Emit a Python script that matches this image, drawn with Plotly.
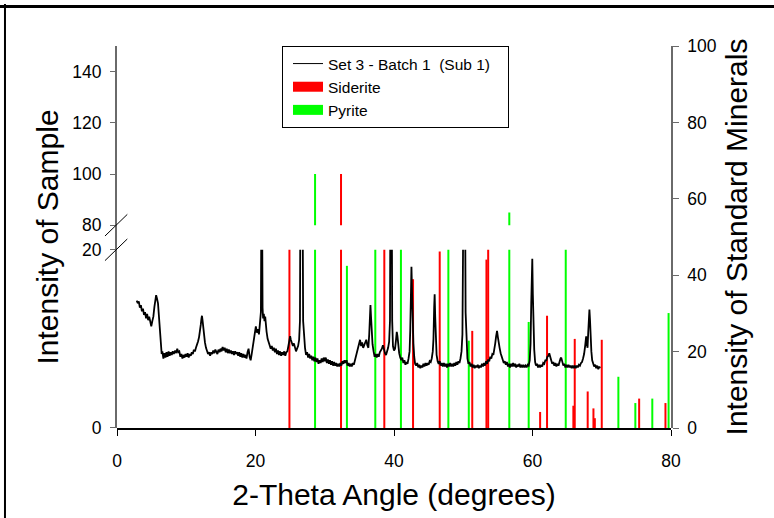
import plotly.graph_objects as go

# ---------------- data ----------------
sample_x = [2.84, 3.0, 3.15, 3.3, 3.45, 3.6, 3.75, 3.9, 4.05, 4.2, 4.35, 4.5, 4.65, 4.8, 4.95, 5.1,
            5.25, 5.4, 5.55, 5.65, 5.78, 5.92, 6.05, 6.2, 6.35, 6.45, 6.55, 6.7,
            6.85, 7.0, 7.15, 7.3, 7.45, 7.6, 7.75, 7.9, 8.05, 8.2, 8.4, 8.55, 8.7, 8.85, 9.0, 9.15,
            9.3, 9.45, 9.6, 9.75, 9.9, 10.05, 10.2, 10.35, 10.5, 10.65, 10.8, 10.95, 11.1, 11.25,
            11.4, 11.55, 11.7, 11.85, 12.0, 12.1, 12.2, 12.27, 12.35, 12.45, 12.56, 12.7, 12.85,
            13.0, 13.15, 13.3, 13.45, 13.6, 13.75, 13.9, 14.05, 14.2, 14.35, 14.5, 14.65, 14.8,
            14.95, 15.1, 15.25, 15.4, 15.55, 15.7, 15.85, 16.0, 16.15, 16.3, 16.45, 16.6, 16.75,
            16.9, 17.05, 17.2, 17.35, 17.5, 17.65, 17.8, 17.95, 18.1, 18.25, 18.4, 18.55, 18.7,
            18.85, 19.0, 19.15, 19.3, 19.45, 19.6, 19.75, 19.9, 20.05, 20.2, 20.35, 20.5, 20.65,
            20.78, 20.85, 20.9, 20.95, 21.02, 21.1, 21.2, 21.3, 21.4, 21.5, 21.6, 21.75, 21.9,
            22.05, 22.2, 22.35, 22.5, 22.65, 22.8, 22.95, 23.1, 23.25, 23.4, 23.55, 23.7, 23.85,
            24.0, 24.15, 24.3, 24.45, 24.6, 24.75, 24.9, 25.0, 25.1, 25.25, 25.4, 25.55, 25.7,
            25.85, 26.0, 26.15, 26.3, 26.42, 26.5, 26.6, 26.7, 26.78, 26.88, 27.0, 27.15, 27.3,
            27.45, 27.6, 27.75, 27.9, 28.05, 28.2, 28.35, 28.5, 28.65, 28.8, 28.95, 29.1, 29.25,
            29.4, 29.55, 29.7, 29.85, 30.0, 30.15, 30.3, 30.45, 30.6, 30.75, 30.9, 31.05, 31.2,
            31.35, 31.5, 31.65, 31.8, 31.95, 32.1, 32.25, 32.4, 32.55, 32.7, 32.85, 33.0, 33.15,
            33.3, 33.45, 33.6, 33.75, 33.9, 34.05, 34.2, 34.35, 34.5, 34.65, 34.8, 34.95, 35.1,
            35.25, 35.4, 35.55, 35.7, 35.85, 36.0, 36.15, 36.3, 36.42, 36.52, 36.6, 36.68, 36.78,
            36.9, 37.05, 37.2, 37.35, 37.5, 37.65, 37.8, 37.95, 38.1, 38.25, 38.4, 38.55, 38.7,
            38.85, 39.0, 39.15, 39.3, 39.42, 39.5, 39.58, 39.66, 39.74, 39.85, 40.0, 40.15, 40.28,
            40.4, 40.5, 40.62, 40.75, 40.9, 41.05, 41.2, 41.35, 41.5, 41.65, 41.8, 41.95, 42.1,
            42.25, 42.35, 42.45, 42.52, 42.6, 42.7, 42.8, 42.92, 43.05, 43.2, 43.35, 43.5, 43.65,
            43.8, 43.95, 44.1, 44.25, 44.4, 44.55, 44.7, 44.85, 45.0, 45.15, 45.3, 45.45, 45.6,
            45.7, 45.8, 45.87, 45.95, 46.05, 46.15, 46.3, 46.45, 46.6, 46.75, 46.9, 47.05, 47.2,
            47.35, 47.5, 47.65, 47.8, 47.95, 48.1, 48.25, 48.4, 48.55, 48.7, 48.85, 49.0, 49.15,
            49.3, 49.45, 49.6, 49.75, 49.88, 49.98, 50.08, 50.16, 50.24, 50.34, 50.45, 50.6, 50.75,
            50.9, 51.05, 51.2, 51.35, 51.5, 51.65, 51.8, 51.95, 52.1, 52.25, 52.4, 52.55, 52.7,
            52.85, 53.0, 53.15, 53.3, 53.45, 53.6, 53.75, 53.9, 54.05, 54.2, 54.35, 54.5, 54.62,
            54.75, 54.88, 55.0, 55.12, 55.25, 55.4, 55.55, 55.7, 55.85, 56.0, 56.15, 56.3, 56.45,
            56.6, 56.75, 56.9, 57.05, 57.2, 57.35, 57.5, 57.65, 57.8, 57.95, 58.1, 58.25, 58.4,
            58.55, 58.7, 58.85, 59.0, 59.15, 59.3, 59.45, 59.6, 59.72, 59.82, 59.9, 59.97, 60.05,
            60.15, 60.25, 60.38, 60.5, 60.65, 60.8, 60.95, 61.1, 61.25, 61.4, 61.55, 61.7, 61.85,
            62.0, 62.15, 62.3, 62.42, 62.55, 62.7, 62.85, 63.0, 63.15, 63.3, 63.45, 63.6, 63.75,
            63.9, 64.05, 64.15, 64.3, 64.45, 64.6, 64.75, 64.9, 65.05, 65.2, 65.35, 65.5, 65.65,
            65.8, 65.95, 66.1, 66.25, 66.4, 66.55, 66.7, 66.85, 67.0, 67.15, 67.3, 67.45, 67.6,
            67.75, 67.85, 67.95, 68.05, 68.15, 68.22, 68.3, 68.4, 68.5, 68.62, 68.75, 68.9, 69.05,
            69.2, 69.35, 69.5, 69.65, 69.75]
sample_y = [14.3, 14.0, 14.2, 13.5, 13.8, 13.1, 13.4, 12.7, 13.0, 12.3, 12.8, 12.1, 12.5, 11.8, 11.4, 12.0,
            12.5, 13.6, 14.6, 14.9, 14.5, 14.0, 12.6, 11.0, 9.2, 8.3, 8.6, 7.8,
            8.4, 7.9, 8.5, 8.0, 8.6, 8.1, 8.5, 8.2, 8.6, 8.3, 8.7, 8.4, 8.9, 8.5, 8.6, 8.0,
            8.3, 7.8, 8.2, 7.9, 8.3, 8.0, 8.4, 7.9, 8.3, 8.1, 8.5, 8.3, 8.8, 8.6,
            9.0, 9.3, 9.7, 10.2, 10.8, 11.6, 12.3, 12.6, 12.1, 11.2, 10.5, 9.6, 9.0,
            8.6, 8.3, 8.5, 8.1, 8.5, 8.3, 8.7, 8.4, 8.8, 8.5, 8.3, 8.8, 8.5,
            8.9, 8.6, 9.1, 8.7, 9.0, 8.5, 8.9, 8.4, 8.8, 8.4, 8.7, 8.3, 8.6,
            8.2, 8.6, 8.3, 8.5, 8.1, 8.5, 8.0, 8.4, 7.9, 8.3, 7.9, 8.2, 7.8,
            8.5, 8.9, 8.0, 7.6, 8.3, 9.0, 9.9, 10.6, 11.4, 10.7, 11.1, 10.5, 11.5,
            13.0, 25.0, 40.0, 25.0, 13.5, 12.3, 12.8, 12.0, 12.5, 11.4, 10.8, 10.0, 9.6,
            9.3, 8.9, 9.2, 8.7, 9.0, 8.5, 8.9, 8.3, 8.7, 8.2, 8.6, 8.1, 8.5,
            8.2, 8.6, 8.1, 8.5, 8.6, 9.2, 9.8, 10.3, 9.9, 9.6, 9.2, 9.5, 8.8,
            8.6, 8.9, 9.2, 9.9, 12.0, 30.0, 40.0, 40.0, 30.0, 12.0, 9.9, 9.0, 8.2,
            8.5, 7.9, 8.3, 7.8, 8.1, 7.6, 8.0, 7.5, 7.9, 7.4, 7.8, 7.2, 7.6,
            7.3, 7.8, 7.4, 7.9, 7.5, 7.9, 7.3, 7.7, 7.2, 7.6, 7.1, 7.5, 7.0,
            7.4, 7.0, 7.3, 6.9, 7.2, 6.9, 7.3, 7.0, 7.5, 7.2, 7.6, 7.3, 7.6,
            7.0, 7.3, 6.9, 7.2, 6.9, 7.3, 7.1, 7.6, 7.9, 8.4, 9.0, 9.6, 9.9,
            9.2, 9.6, 9.0, 9.4, 9.7, 9.9, 9.3, 9.0, 10.5, 12.8, 13.8, 12.5, 10.4,
            9.4, 8.6, 8.0, 8.3, 7.9, 8.3, 8.0, 8.5, 8.7, 8.9, 9.3, 8.8, 8.4,
            8.2, 8.6, 9.0, 9.7, 12.0, 30.0, 40.0, 30.0, 12.0, 9.2, 8.7, 8.9, 9.8,
            10.8, 10.3, 9.2, 8.4, 7.9, 7.6, 7.9, 7.3, 7.6, 7.1, 7.4, 7.2, 7.8,
            8.6, 11.0, 16.0, 18.1, 15.5, 11.5, 9.5, 8.0, 7.2, 7.0, 7.3, 6.8, 7.1,
            6.7, 7.0, 6.8, 7.2, 6.9, 7.3, 7.0, 7.3, 7.1, 7.5, 7.4, 7.8, 8.6,
            10.0, 13.5, 15.0, 12.5, 9.5, 8.2, 7.5, 7.2, 7.5, 7.0, 7.3, 6.9, 7.3,
            6.9, 7.2, 6.8, 7.2, 6.9, 7.3, 6.9, 7.2, 6.9, 7.3, 7.0, 7.4, 7.1,
            7.5, 7.3, 7.8, 8.6, 10.5, 14.0, 30.0, 40.0, 30.0, 13.0, 9.4, 7.8, 7.2,
            7.4, 6.9, 7.2, 6.8, 7.1, 6.7, 7.0, 6.8, 7.1, 6.7, 7.0, 6.8, 7.2,
            6.9, 7.3, 7.0, 7.5, 7.2, 7.7, 7.5, 8.0, 7.8, 8.3, 8.2, 8.8, 9.5,
            10.3, 10.9, 10.2, 9.4, 9.0, 8.4, 8.0, 7.6, 7.3, 7.5, 7.1, 7.4, 6.9,
            7.2, 6.8, 7.2, 6.9, 7.3, 6.9, 7.2, 6.8, 7.1, 6.9, 7.2, 6.8, 7.1,
            6.8, 7.1, 6.8, 7.0, 6.8, 7.1, 7.0, 7.6, 9.5, 14.0, 18.2, 19.0, 15.0,
            11.2, 8.8, 7.4, 7.0, 7.2, 6.8, 7.1, 6.8, 7.1, 6.9, 7.3, 7.2, 7.6,
            7.6, 8.0, 8.1, 8.4, 7.9, 7.6, 7.2, 7.4, 7.0, 7.3, 6.9, 7.2, 7.0,
            7.5, 7.8, 7.9, 7.3, 7.0, 7.2, 6.8, 7.1, 6.8, 7.1, 6.8, 7.0, 6.7,
            7.0, 6.7, 7.0, 6.7, 7.0, 6.8, 7.1, 7.0, 7.3, 7.4, 7.8, 8.3, 9.2,
            10.3, 9.4, 9.0, 10.8, 12.6, 13.3, 12.2, 10.0, 8.6, 7.6, 7.1, 6.9, 7.1,
            6.7, 7.0, 6.6, 6.9, 6.7]

siderite_x = [24.9, 32.35, 38.6, 42.75, 46.6, 51.3, 53.35, 53.6, 61.1, 62.1, 65.9, 66.1,
              67.97, 68.8, 69.0, 70.0, 75.4, 79.2]
siderite_y = [30, 100, 25, 16.7, 19.8, 10.9, 18.9, 30, 1.8, 12.6, 2.5, 10.0,
              4.1, 2.2, 1.1, 9.9, 3.3, 2.8]

pyrite_x = [28.6, 33.2, 37.3, 41.0, 47.85, 50.8, 56.65, 59.45, 64.8, 72.4, 74.85, 77.3, 79.65]
pyrite_y = [100, 18.2, 40, 30, 50, 9.8, 85, 11.9, 25, 5.75, 2.8, 3.3, 12.9]

x_ticks = [0, 20, 40, 60, 80]
lower_ticks = [0, 20]
upper_ticks = [80, 100, 120, 140]
right_ticks = [0, 20, 40, 60, 80, 100]

# ---------------- styling ----------------
FONT = "Arial, Liberation Sans, sans-serif"
RED = "#ff0000"
GREEN = "#00ff00"
AXGRAY = "#6a6a6a"
LOW_TOP = 0.4665
UP_BOT = 0.5309


def sticks(xs, ys):
    sx, sy = [], []
    for x, y in zip(xs, ys):
        sx += [x, x, None]
        sy += [0, y, None]
    return sx, sy


fig = go.Figure()

# legend entries
fig.add_trace(go.Scatter(x=[None], y=[None], mode="lines",
                         name="Set 3 - Batch 1 \u00a0(Sub 1)\u00a0\u00a0\u00a0",
                         line=dict(color="black", width=1)))
fig.add_trace(go.Scatter(x=[None], y=[None], mode="lines", name="Siderite",
                         line=dict(color=RED, width=11)))
fig.add_trace(go.Scatter(x=[None], y=[None], mode="lines", name="Pyrite",
                         line=dict(color=GREEN, width=11)))

for xs, ys, col in [(siderite_x, siderite_y, RED), (pyrite_x, pyrite_y, GREEN)]:
    sx, sy = sticks(xs, ys)
    for ax in ["y", "y2"]:
        fig.add_trace(go.Scatter(x=sx, y=sy, mode="lines", yaxis=ax, showlegend=False,
                                 hoverinfo="skip", line=dict(color=col, width=2)))
# sample trace (lower + upper panels, clipped by the axis ranges)
for ax in ["y", "y2"]:
    fig.add_trace(go.Scatter(x=sample_x, y=sample_y, mode="lines", yaxis=ax,
                             line=dict(color="black", width=1.8), showlegend=False))
# helper traces so the full-height axes are drawn
for ax in ["y3", "y4"]:
    fig.add_trace(go.Scatter(x=[0], y=[0], mode="markers", yaxis=ax, showlegend=False,
                             hoverinfo="skip", marker=dict(opacity=0)))

tickfont = dict(family=FONT, size=17.5, color="black")
titlefont = dict(family=FONT, size=30, color="black")

fig.update_layout(
    width=774, height=518,
    margin=dict(l=117, r=103, t=46, b=84),
    paper_bgcolor="white", plot_bgcolor="rgba(0,0,0,0)",
    font=dict(family=FONT, color="black"),
    xaxis=dict(domain=[0, 1], range=[0, 80], anchor="y", tickvals=x_ticks,
               ticks="outside", ticklen=6, tickwidth=1, tickcolor="black",
               showline=True, linecolor="black", linewidth=2, showgrid=False, zeroline=False,
               tickfont=tickfont, ticklabelstandoff=10,
               title=dict(text="2-Theta Angle (degrees)", font=titlefont, standoff=14)),
    xaxis2=dict(range=[0, 80], anchor="y2", overlaying="x", side="top", showline=True,
                linecolor="#444444", linewidth=1, ticks="", showticklabels=False,
                showgrid=False, zeroline=False),
    yaxis=dict(domain=[0, LOW_TOP], range=[0, 20], anchor="x", tickvals=lower_ticks,
               ticks="outside", ticklen=6, tickcolor=AXGRAY, showline=False,
               showgrid=False, zeroline=False, tickfont=tickfont, ticklabelstandoff=5),
    yaxis2=dict(domain=[UP_BOT, 1], range=[80, 150], anchor="x", tickvals=upper_ticks,
                ticks="outside", ticklen=6, tickcolor=AXGRAY, showline=False,
                showgrid=False, zeroline=False, tickfont=tickfont, ticklabelstandoff=5),
    yaxis3=dict(domain=[0, 1], range=[0, 100], anchor="x", side="right", tickvals=right_ticks,
                ticks="outside", ticklen=6, tickcolor=AXGRAY, showline=True, linecolor=AXGRAY,
                linewidth=1.5, showgrid=False, zeroline=False, tickfont=tickfont,
                ticklabelstandoff=5,
                title=dict(text="Intensity of Standard Minerals", font=titlefont, standoff=10)),
    yaxis4=dict(domain=[0, 1], range=[0, 1], anchor="x", side="left", showline=True,
                linecolor=AXGRAY, linewidth=1.5, ticks="", showticklabels=False,
                showgrid=False, zeroline=False,
                title=dict(text="Intensity of Sample", font=titlefont, standoff=48)),
    legend=dict(x=(282 - 117) / 554, y=1, xanchor="left", yanchor="top",
                bordercolor="black", borderwidth=1, bgcolor="white",
                font=dict(family=FONT, size=15.5, color="black"), indentation=5,
                traceorder="normal"),
)

# axis break marks and outer frame
hh = 11 / 388
for yc in [LOW_TOP, UP_BOT]:
    fig.add_shape(type="line", xref="paper", yref="paper",
                  x0=-0.0217, x1=0.0186, y0=yc - hh, y1=yc + hh,
                  line=dict(color="black", width=1))
fig.add_shape(type="line", xref="paper", yref="paper", x0=-0.3, x1=1.3, y0=1.1031, y1=1.1031,
              line=dict(color="black", width=3))
fig.add_shape(type="line", xref="paper", yref="paper", x0=-0.2022, x1=-0.2022, y0=1.11, y1=-0.3,
              line=dict(color="black", width=2))

fig.write_html("out.html")
